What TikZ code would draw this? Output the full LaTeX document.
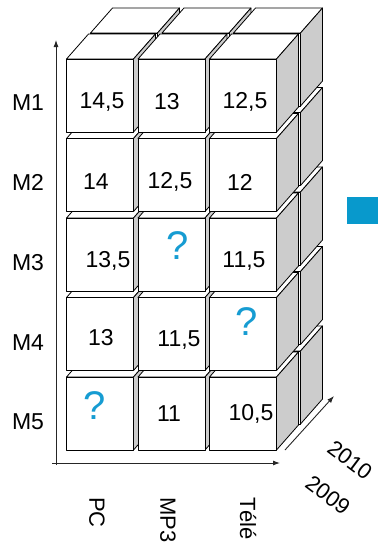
\documentclass[tikz,border=0pt]{standalone}
\usepackage{fontspec}
\setmainfont{Liberation Sans}
\usetikzlibrary{arrows.meta}
\definecolor{sidegray}{RGB}{204,204,204}
\definecolor{qblue}{RGB}{22,156,210}
\definecolor{boxblue}{RGB}{8,153,204}
\begin{document}
\begin{tikzpicture}[x=1pt,y=-1pt,
  cubeface/.style={fill=white,draw=black,line width=0.8pt,line join=round},
  cubeside/.style={fill=sidegray,draw=black,line width=0.8pt,line join=round},
  num/.style={font=\fontsize{23}{26}\selectfont,inner sep=0pt},
  qmark/.style={font=\fontsize{40}{44}\selectfont,text=qblue,inner sep=0pt},
  rowlab/.style={font=\fontsize{23}{26}\selectfont,inner sep=0pt},
  collab/.style={font=\fontsize{22}{26}\selectfont,inner sep=0pt,rotate=-90,anchor=west},
  yearlab/.style={font=\fontsize{22}{26}\selectfont,inner sep=0pt,rotate=-37},
  axis/.style={draw=black!85,line width=0.9pt,-{Latex[length=7pt,width=5pt]}}]
\useasboundingbox (0,0) rectangle (378,542);
% cubes: back layer (2010) then front layer (2009)
\foreach \lx/\ly in {24/-26,0/0}{
  \foreach \c in {0,1,2}{
    \foreach \r in {4,3,2,1,0}{
      \pgfmathsetmacro\a{66.5+71.5*\c+\lx}
      \pgfmathsetmacro\b{59+79.5*\r+\ly}
      \draw[cubeface] (\a,\b) -- ++(22,-25) -- ++(67,0) -- ++(-22,25) -- cycle;
      \draw[cubeside] (\a+67,\b) -- ++(22,-25) -- ++(0,73) -- ++(-22,25) -- cycle;
      \draw[cubeface] (\a,\b) rectangle ++(67,73);
    }
  }
}
% values
\node[num] (v11) at (102,102) {14,5};
\node[num] (v12) at (167,102) {13};
\node[num] (v13) at (245,102) {12,5};
\node[num] (v21) at (96,182) {14};
\node[num] (v22) at (170,182) {12,5};
\node[num] (v23) at (240,182) {12};
\node[num] (v31) at (108,261) {13,5};
\node[qmark] (v32) at (178,246) {?};
\node[num] (v33) at (244,261) {11,5};
\node[num] (v41) at (101,338) {13};
\node[num] (v42) at (179,340) {11,5};
\node[qmark] (v43) at (247,322) {?};
\node[qmark] (v51) at (95,406) {?};
\node[num] (v52) at (169,414) {11};
\node[num] (v53) at (251,414) {10,5};
% row labels
\node[rowlab] (m1) at (28,103) {M1};
\node[rowlab] (m2) at (28,182) {M2};
\node[rowlab] (m3) at (28,263) {M3};
\node[rowlab] (m4) at (28,343) {M4};
\node[rowlab] (m5) at (28,422) {M5};
% column labels
\node[collab] (pc) at (97,497) {PC};
\node[collab] (mp3) at (168,497) {MP3};
\node[collab] (tele) at (248,497) {Télé};
% year labels
\node[yearlab] (y2010) at (350,460) {2010};
\node[yearlab] (y2009) at (328,495) {2009};
% axes
\coordinate (ybot) at (56,465);
\coordinate (ytop) at (56,40);
\coordinate (xstart) at (52,463);
\coordinate (xend) at (280,463);
\coordinate (dstart) at (285,450);
\coordinate (dend) at (334,396);
\draw[axis] (ybot) -- (ytop);
\draw[axis] (xstart) -- (xend);
\draw[axis] (dstart) -- (dend);
% blue box at right edge
\node[fill=boxblue,inner sep=0pt,minimum width=31pt,minimum height=27pt,anchor=north west] (bluebox) at (347,197) {};
\end{tikzpicture}
\end{document}
